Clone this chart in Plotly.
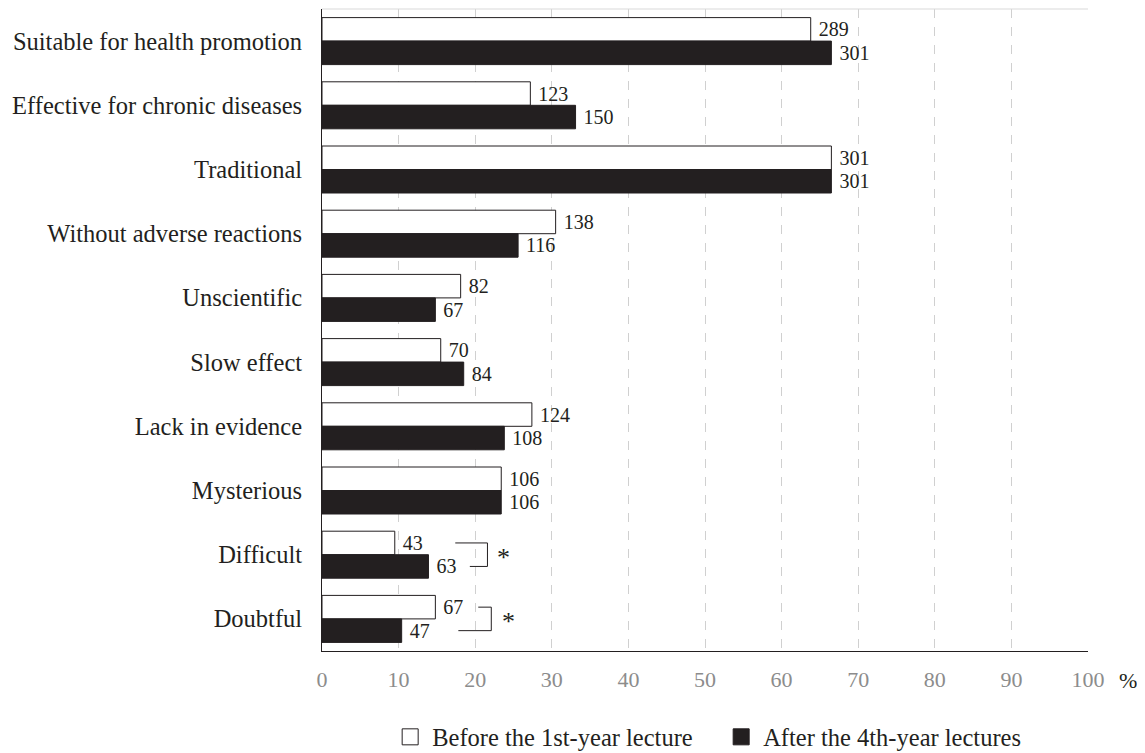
import plotly.graph_objects as go

categories = [
    "Suitable for health promotion",
    "Effective for chronic diseases",
    "Traditional",
    "Without adverse reactions",
    "Unscientific",
    "Slow effect",
    "Lack in evidence",
    "Mysterious",
    "Difficult",
    "Doubtful",
]
before_pct = [63.8, 27.2, 66.5, 30.5, 18.1, 15.5, 27.4, 23.4, 9.5, 14.8]
after_pct = [66.5, 33.1, 66.5, 25.6, 14.8, 18.5, 23.8, 23.4, 13.9, 10.4]
before_n = [289, 123, 301, 138, 82, 70, 124, 106, 43, 67]
after_n = [301, 150, 301, 116, 67, 84, 108, 106, 63, 47]
series_names = ["Before the 1st-year lecture", "After the 4th-year lectures"]
x_ticks = [0, 10, 20, 30, 40, 50, 60, 70, 80, 90, 100]

# significance brackets: (category index, top start x, bottom start x, right x, star x)
sig_brackets = [
    (8, 17.4, 19.3, 21.6, 23.7),
    (9, 20.4, 17.8, 22.1, 24.3),
]

FONT = "Liberation Serif, Times New Roman, serif"
INK = "#231f20"
BARGAP = 0.268
half = (1 - BARGAP) / 4
ypos = list(range(len(categories)))

fig = go.Figure()
fig.add_trace(go.Bar(
    y=ypos, x=before_pct, orientation="h", name=series_names[0], showlegend=False,
    marker=dict(color="white", line=dict(color=INK, width=1)),
    text=[" " + str(v) for v in before_n], textposition="outside",
    textfont=dict(family=FONT, size=20, color=INK),
    cliponaxis=False,
))
fig.add_trace(go.Bar(
    y=ypos, x=after_pct, orientation="h", name=series_names[1], showlegend=False,
    marker=dict(color=INK, line=dict(color=INK, width=1)),
    text=[" " + str(v) for v in after_n], textposition="outside",
    textfont=dict(family=FONT, size=20, color=INK),
    cliponaxis=False,
))
# legend entries with larger square swatches
for name, fill in zip(series_names, ["white", INK]):
    fig.add_trace(go.Scatter(
        x=[None], y=[None], mode="markers", name=name, showlegend=True,
        marker=dict(symbol="square", size=17, color=fill, line=dict(color=INK, width=1)),
    ))

shapes = []
annotations = []
for idx, xs_top, xs_bot, xr, xstar in sig_brackets:
    yt = idx - half
    yb = idx + half
    line = dict(color=INK, width=1)
    shapes.append(dict(type="line", xref="x", yref="y", x0=xs_top, x1=xr, y0=yt, y1=yt, line=line))
    shapes.append(dict(type="line", xref="x", yref="y", x0=xr, x1=xr, y0=yt, y1=yb, line=line))
    shapes.append(dict(type="line", xref="x", yref="y", x0=xs_bot, x1=xr, y0=yb, y1=yb, line=line))
    annotations.append(dict(x=xstar, y=idx, xref="x", yref="y", text="*", showarrow=False,
                            font=dict(family=FONT, size=26, color=INK), yshift=-3))

# top border
shapes.append(dict(type="line", xref="paper", yref="paper", x0=0, x1=1, y0=1, y1=1,
                   line=dict(color="#d9d9d9", width=1)))

annotations.append(dict(x=1.0, y=0, xref="paper", yref="paper", text="%", showarrow=False,
                        xanchor="center", yanchor="middle", xshift=40, yshift=-29,
                        font=dict(family=FONT, size=22, color=INK)))

fig.update_layout(
    width=1145, height=753,
    margin=dict(l=314, r=65, t=1, b=110),
    plot_bgcolor="white", paper_bgcolor="white",
    barmode="group", bargap=BARGAP, bargroupgap=0,
    font=dict(family=FONT, size=22, color=INK),
    showlegend=True,
    legend=dict(orientation="h", x=0.5185, xanchor="center", xref="paper",
                y=0.032, yanchor="middle", yref="container",
                font=dict(family=FONT, size=24.5, color=INK),
                traceorder="normal", itemwidth=34,
                entrywidth=282, entrywidthmode="pixels"),
    shapes=shapes, annotations=annotations,
    xaxis=dict(range=[0, 100], tickvals=x_ticks, ticktext=[str(t) for t in x_ticks],
               showgrid=True, gridcolor="#d0d0d0", griddash="dash", gridwidth=1,
               showline=True, linecolor=INK, linewidth=1, zeroline=False,
               tickfont=dict(family=FONT, size=22, color="#8c8c8c"), ticks="", ticklen=0,
               ticklabelstandoff=9),
    yaxis=dict(tickvals=ypos, ticktext=categories,
               range=[len(categories) - 0.5, -0.5], showgrid=False,
               showline=True, linecolor=INK, linewidth=1, zeroline=False,
               tickfont=dict(family=FONT, size=24.5, color=INK), ticks="",
               ticklabelstandoff=14),
)

fig.write_html("out.html")
